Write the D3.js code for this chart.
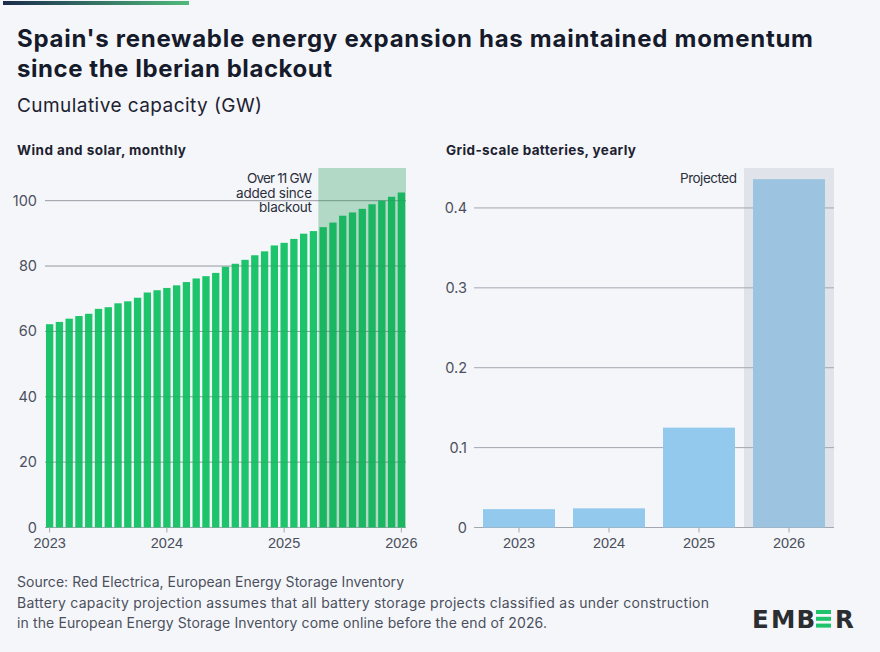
<!DOCTYPE html>
<html>
<head>
<meta charset="utf-8">
<script src="https://cdn.jsdelivr.net/npm/d3@7"></script>
<style>
  body { margin: 0; background: #f5f6fa; }
  svg { display: block; font-family: Inter, "Noto Sans", sans-serif; }
</style>
</head>
<body>
<div id="chart"></div>
<script>
// wind + solar cumulative capacity, GW, Jan 2023 .. Jan 2026
const months = d3.timeMonth.range(new Date(2023, 0, 1), new Date(2026, 1, 1))
const windSolar = [62.2, 62.9, 63.9, 64.7, 65.4, 66.9, 67.4, 68.6, 69.2, 70.3, 71.9, 72.6,
    73.3, 74.1, 75.1, 76.2, 76.9, 77.9, 79.8, 80.7, 81.9, 83.3, 84.5, 86.3,
    87.1, 88.3, 89.9, 90.7, 91.9, 93.3, 95.4, 96.4, 97.5, 98.9, 100.0, 101.2, 102.5]
const blackoutIndex = 28 // first month after the blackout (May 2025)
const leftTicks = [0, 20, 40, 60, 80, 100]

const years = ['2023', '2024', '2025', '2026']
const batteries = [0.023, 0.024, 0.125, 0.436]
const projectedYear = '2026'
const rightTicks = [0, 0.1, 0.2, 0.3, 0.4]

const W = 880, H = 652
const green = '#1dc46b', blue = '#93c9ec', gridColor = '#a3a7b0', textColor = '#4b505c'

const svg = d3.select('#chart').append('svg')
    .attr('width', W)
    .attr('height', H)

svg.append('rect').attr('width', W).attr('height', H).attr('fill', '#f5f6fa')

// the original font is wider than what we have, so stretch the spacing to the same width
const addText = (x, y, str, size, width, opts = {}) => {
    const t = svg.append('text')
        .attr('x', x).attr('y', y)
        .attr('font-size', size)
        .attr('font-weight', opts.weight || 400)
        .attr('fill', opts.fill || '#1d2230')
        .attr('text-anchor', opts.anchor || 'start')
        .text(str)
    if (width) t.attr('textLength', width).attr('lengthAdjust', 'spacing')
    return t
}

// top accent bar
const grad = svg.append('defs').append('linearGradient').attr('id', 'accent')
grad.append('stop').attr('offset', '0%').attr('stop-color', '#1b2b4c')
grad.append('stop').attr('offset', '100%').attr('stop-color', '#4fba7c')
svg.append('rect').attr('x', 3).attr('y', 1).attr('width', 186).attr('height', 4).attr('fill', 'url(#accent)')

// titles
addText(17, 47, "Spain's renewable energy expansion has maintained momentum", 24, 796, { weight: 700, fill: '#161b2b' })
addText(17, 77, 'since the Iberian blackout', 24, 315, { weight: 700, fill: '#161b2b' })
addText(17, 112, 'Cumulative capacity (GW)', 19, 245)
addText(17, 155, 'Wind and solar, monthly', 13.5, 169, { weight: 700 })
addText(446, 155, 'Grid-scale batteries, yearly', 13.5, 190, { weight: 700 })

const plotTop = 168, plotBottom = 527.5

// ---------- left panel ----------
const xL = d3.scaleBand().domain(months).range([45, 406]).paddingInner(0.25).paddingOuter(0.1)
const yL = d3.scaleLinear().domain([0, 110]).range([plotBottom, plotTop])

const gL = svg.append('g')

gL.selectAll('line.grid').data(leftTicks).enter().append('line')
    .attr('class', 'grid')
    .attr('x1', 45).attr('x2', 406)
    .attr('y1', d => yL(d)).attr('y2', d => yL(d))
    .attr('stroke', gridColor).attr('stroke-width', 1)

gL.selectAll('rect.bar').data(windSolar).enter().append('rect')
    .attr('class', 'bar')
    .attr('x', (d, i) => xL(months[i]))
    .attr('width', xL.bandwidth())
    .attr('y', d => yL(d))
    .attr('height', d => yL(0) - yL(d))
    .attr('fill', green)

// faint grid showing through the bars
gL.selectAll('line.gridover').data(leftTicks.filter(d => d > 0)).enter().append('line')
    .attr('x1', 45).attr('x2', 406)
    .attr('y1', d => yL(d)).attr('y2', d => yL(d))
    .attr('stroke', '#000').attr('stroke-opacity', 0.07)

// post-blackout shading
const shadeX = xL(months[blackoutIndex]) - xL.step() * xL.paddingInner() / 2
gL.append('rect')
    .attr('x', shadeX).attr('y', plotTop)
    .attr('width', 406 - shadeX).attr('height', plotBottom - plotTop)
    .attr('fill', 'rgb(22,150,80)').attr('fill-opacity', 0.3)

const annLines = [['Over 11 GW', 65], ['added since', 76], ['blackout', 53]]
annLines.forEach(([t, w], i) => {
    addText(312, 183 + i * 14.5, t, 13.5, w, { anchor: 'end', fill: '#2a2f3a' })
})

const axL = gL.append('g').attr('transform', `translate(0,${plotBottom})`)
    .call(d3.axisBottom(xL)
        .tickValues([0, 12, 24, 36].map(i => months[i]))
        .tickFormat(d3.timeFormat('%Y'))
        .tickSize(5).tickPadding(5))
axL.select('.domain').remove()
axL.selectAll('line').attr('stroke', gridColor)
axL.selectAll('text').attr('font-size', 14.5).attr('fill', textColor).attr('font-family', null)

gL.selectAll('text.ylab').data(leftTicks).enter().append('text')
    .attr('class', 'ylab')
    .attr('x', 37).attr('y', d => yL(d)).attr('dy', '0.35em')
    .attr('text-anchor', 'end').attr('font-size', 14.5).attr('fill', textColor)
    .text(d => d)

// ---------- right panel ----------
const xR = d3.scaleBand().domain(years).range([474, 834]).paddingInner(0.2).paddingOuter(0.1)
const yR = d3.scaleLinear().domain([0, 0.45]).range([plotBottom, plotTop])

const gR = svg.append('g')

const projX = xR(projectedYear) - xR.step() * xR.paddingInner() / 2
gR.append('rect')
    .attr('x', projX).attr('y', plotTop)
    .attr('width', xR.step()).attr('height', plotBottom - plotTop)
    .attr('fill', '#e0e3ea')

gR.selectAll('line.grid').data(rightTicks).enter().append('line')
    .attr('class', 'grid')
    .attr('x1', 474).attr('x2', 834)
    .attr('y1', d => yR(d)).attr('y2', d => yR(d))
    .attr('stroke', gridColor).attr('stroke-width', 1)

gR.selectAll('rect.bar').data(batteries).enter().append('rect')
    .attr('class', 'bar')
    .attr('x', (d, i) => xR(years[i]))
    .attr('width', xR.bandwidth())
    .attr('y', d => yR(d))
    .attr('height', d => yR(0) - yR(d))
    .attr('fill', (d, i) => years[i] === projectedYear ? '#9cc4e1' : blue)

addText(737, 183, 'Projected', 13.5, 57, { anchor: 'end', fill: '#2a2f3a' })

const axR = gR.append('g').attr('transform', `translate(0,${plotBottom})`)
    .call(d3.axisBottom(xR).tickSize(5).tickPadding(5))
axR.select('.domain').remove()
axR.selectAll('line').attr('stroke', gridColor)
axR.selectAll('text').attr('font-size', 14.5).attr('fill', textColor).attr('font-family', null)

gR.selectAll('text.ylab').data(rightTicks).enter().append('text')
    .attr('class', 'ylab')
    .attr('x', 467).attr('y', d => yR(d)).attr('dy', '0.35em')
    .attr('text-anchor', 'end').attr('font-size', 14.5).attr('fill', textColor)
    .text(d => d)

// ---------- footer ----------
const notes = [['Source: Red Electrica, European Energy Storage Inventory', 387],
    ['Battery capacity projection assumes that all battery storage projects classified as under construction', 692],
    ['in the European Energy Storage Inventory come online before the end of 2026.', 530]]
notes.forEach(([t, w], i) => {
    addText(17, 587 + i * 20.5, t, 14, w, { fill: '#4b505c' })
})

// EMBER logo, the second E drawn as three green bars
const logo = svg.append('g').attr('font-family', '"DejaVu Sans", sans-serif')
    .attr('font-weight', 700).attr('font-size', 24.5).attr('fill', '#2b2d30')
;[['E', 752], ['M', 771], ['B', 796.5], ['R', 835]].forEach(([ch, x]) => {
    logo.append('text').attr('x', x).attr('y', 628).text(ch)
})
;[610, 616.8, 623.6].forEach(y => {
    logo.append('rect').attr('x', 816).attr('y', y).attr('width', 15).attr('height', 4).attr('fill', green)
})
</script>
</body>
</html>
